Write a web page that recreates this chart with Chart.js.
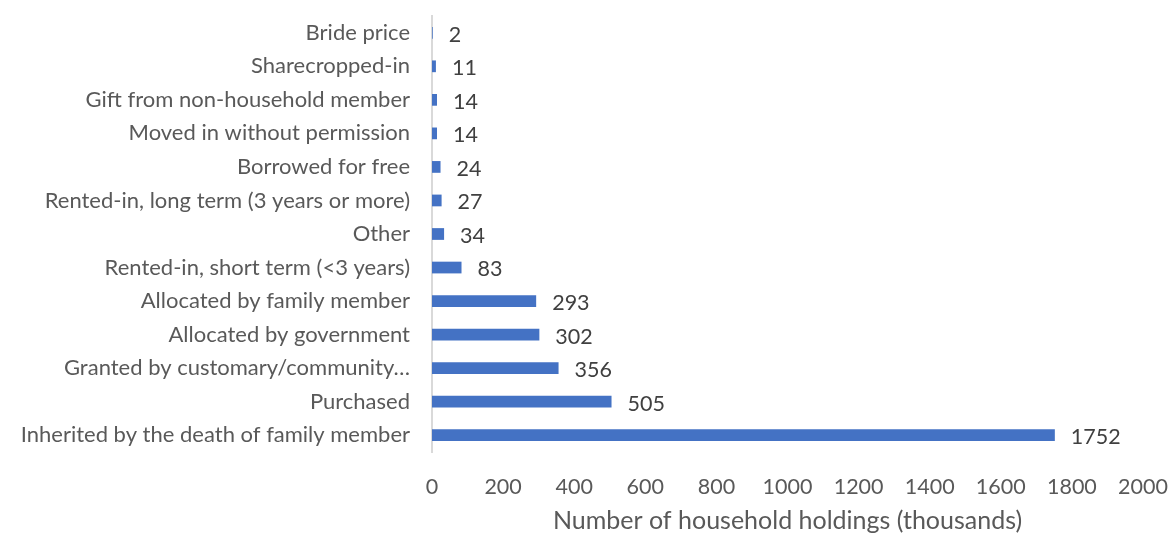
<!DOCTYPE html>
<html><head><meta charset="utf-8">
<script src="https://cdn.jsdelivr.net/npm/chart.js@4/dist/chart.umd.min.js"></script>
<style>html,body{margin:0;padding:0;background:#fff}#wrap{width:1173px;height:536px}</style>
</head><body><div id="wrap"><canvas id="c"></canvas></div>
<script>
const categories = ["Bride price","Sharecropped-in","Gift from non-household member","Moved in without permission","Borrowed for free","Rented-in, long term (3 years or more)","Other","Rented-in, short term (<3 years)","Allocated by family member","Allocated by government","Granted by customary/community\u2026","Purchased","Inherited by the death of family member"];
const holdings = [2,11,14,14,24,27,34,83,293,302,356,505,1752];
const xTicks = [0,200,400,600,800,1000,1200,1400,1600,1800,2000];
const axisTitle = "Number of household holdings (thousands)";
const FONT = "Lato";

const labelPlugin = {
  id:'vals',
  afterDatasetsDraw(chart){
    const ctx = chart.ctx;
    const meta = chart.getDatasetMeta(0);
    ctx.save();
    ctx.font = "21.5px " + FONT;
    ctx.fillStyle = "#404040";
    ctx.textBaseline = "middle";
    ctx.textAlign = "left";
    meta.data.forEach((bar,i)=>{
      ctx.fillText(String(holdings[i]), bar.x + 16, bar.y + 2);
    });
    ctx.restore();
  }
};
function noPad(s){s.paddingLeft=0;s.paddingRight=0;s.paddingTop=0;s.paddingBottom=0;}

new Chart(document.getElementById('c'),{
  type:'bar',
  data:{labels:categories,datasets:[{data:holdings,backgroundColor:'#4472C4',barPercentage:0.7,categoryPercentage:0.5}]},
  options:{
    indexAxis:'y',responsive:true,maintainAspectRatio:false,animation:false,
    layout:{padding:{top:16,right:30,bottom:0,left:0}},
    plugins:{legend:{display:false},tooltip:{enabled:false}},
    scales:{
      x:{min:0,max:2000,afterBuildTicks(s){s.ticks=xTicks.map(v=>({value:v}));},
        afterFit(s){s.height=84;noPad(s);},
        grid:{display:false,drawTicks:false},border:{display:false},
        ticks:{color:'#595959',font:{family:FONT,size:21.5},padding:22,maxRotation:0,callback:(v)=>String(v)},
        title:{display:true,text:axisTitle,color:'#595959',font:{family:FONT,size:25},padding:{top:8,bottom:0}}},
      y:{grid:{display:false,drawTicks:false},border:{display:true,color:'#d9d9d9',width:2},
        afterFit(s){s.width=432;noPad(s);},
        ticks:{color:'#595959',font:{family:FONT,size:22},padding:22,autoSkip:false}}
    }
  },
  plugins:[labelPlugin]
});
</script></body></html>
